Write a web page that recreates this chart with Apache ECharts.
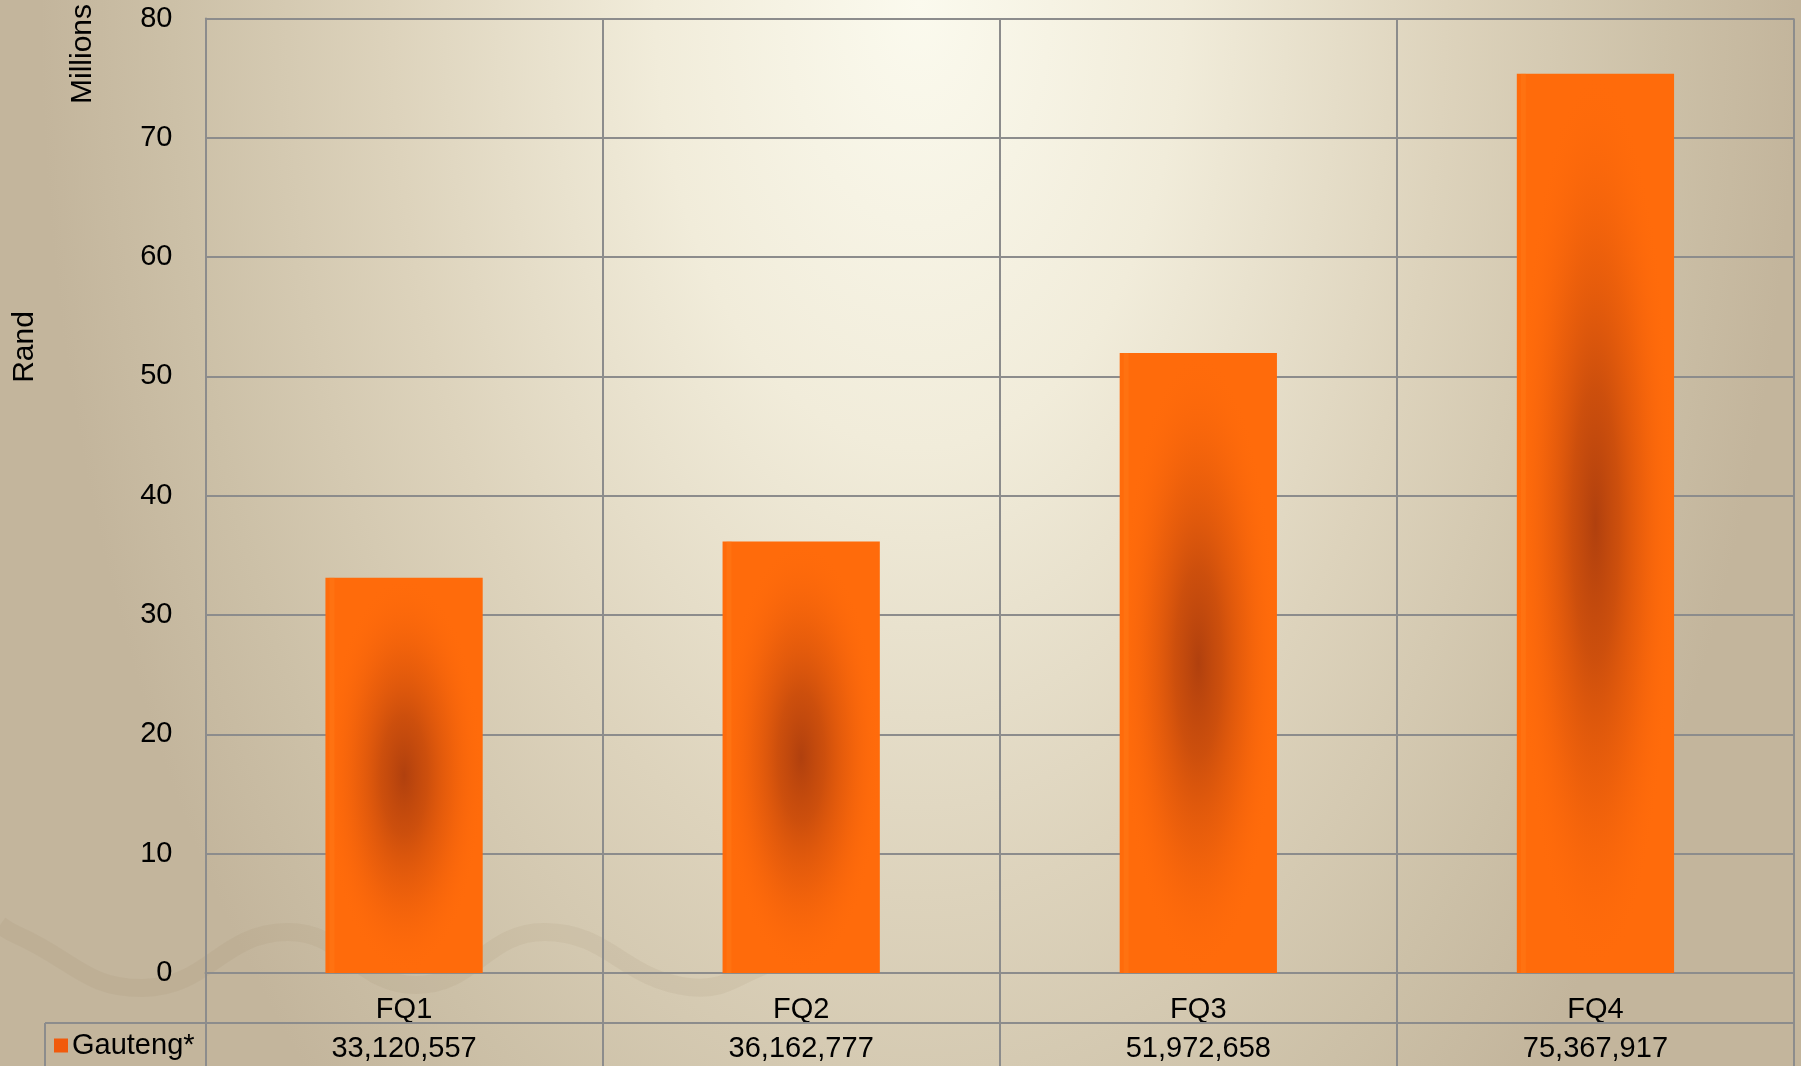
<!DOCTYPE html>
<html>
<head>
<meta charset="utf-8">
<script src="https://cdn.jsdelivr.net/npm/echarts@6/dist/echarts.min.js"></script>
<style>
html,body{margin:0;padding:0;}
#chart{width:1801px;height:1066px;}
</style>
</head>
<body>
<div id="chart"></div>
<script>
const categories = ['FQ1', 'FQ2', 'FQ3', 'FQ4'];
const seriesName = 'Gauteng*';
const gautengRand = [33120557, 36162777, 51972658, 75367917];
const yMin = 0, yMax = 80, yInterval = 10;

const FONT = '"Liberation Sans", Arial, sans-serif';
const FS = 29;
const GRID_COLOR = '#8c8c8c';

const chart = echarts.init(document.getElementById('chart'));

function fmt(v) { return v.toLocaleString('en-US'); }

const BG_K = 1.7;

const option = {
  backgroundColor: '#c6b9a1',
  textStyle: { fontFamily: FONT },
  animation: false,
  grid: { left: 205.5, right: 7, top: 18.5, bottom: 93, containLabel: false },
  legend: {
    data: [seriesName],
    left: 54, top: 1031,
    padding: 0,
    icon: 'rect', itemWidth: 14, itemHeight: 14,
    textStyle: { fontSize: FS, color: '#000', fontFamily: FONT, padding: [0, 0, 0, -1] }
  },
  xAxis: {
    type: 'category',
    data: categories,
    boundaryGap: true,
    axisLine: { show: true, lineStyle: { color: GRID_COLOR, width: 2 } },
    axisTick: { show: true, length: 95, lineStyle: { color: GRID_COLOR, width: 2 } },
    splitLine: { show: true, lineStyle: { color: GRID_COLOR, width: 2 } },
    axisLabel: {
      margin: 17,
      formatter: function (val, idx) {
        return '{c|' + val + '}\n{v|' + fmt(gautengRand[idx]) + '}';
      },
      rich: {
        c: { fontSize: FS, lineHeight: 39, color: '#000', fontFamily: FONT },
        v: { fontSize: FS, lineHeight: 39, color: '#000', fontFamily: FONT }
      }
    }
  },
  yAxis: {
    type: 'value',
    min: yMin, max: yMax, interval: yInterval,
    axisLine: { show: true, lineStyle: { color: GRID_COLOR, width: 2 } },
    axisTick: { show: false },
    splitLine: { show: true, lineStyle: { color: GRID_COLOR, width: 2 } },
    axisLabel: { fontSize: FS, color: '#000', margin: 33, fontFamily: FONT, padding: [6, 0, 0, 0] }
  },
  graphic: [
    {
      type: 'rect', z: -10, silent: true,
      x: 0, y: 0, scaleY: BG_K,
      shape: { x: 0, y: 0, width: 1801, height: 1066 / BG_K },
      style: {
        fill: {
          type: 'radial', x: 0.51, y: 0.0, r: 1.4,
          colorStops: [
            { offset: 0, color: '#fbfaee' },
            { offset: 0.3, color: '#f1ecda' },
            { offset: 0.6, color: '#ddd3bc' },
            { offset: 0.85, color: '#ccc0a7' },
            { offset: 1, color: '#c3b59c' }
          ]
        }
      }
    },
    {
      type: 'polyline', z: 0, silent: true,
      shape: {
        points: [[0, 925], [17, 935], [143, 988], [287, 932], [416, 985], [545, 932], [689, 987], [780, 960], [830, 948]],
        smooth: 0.45
      },
      style: { stroke: 'rgba(140,118,85,0.09)', lineWidth: 18, fill: null }
    },
    {
      type: 'line', silent: true, z: 5,
      shape: { x1: 45, y1: 1023, x2: 1795, y2: 1023 },
      style: { stroke: GRID_COLOR, lineWidth: 2 }
    },
    {
      type: 'line', silent: true, z: 5,
      shape: { x1: 45, y1: 1023, x2: 45, y2: 1066 },
      style: { stroke: GRID_COLOR, lineWidth: 2 }
    },
    {
      type: 'text', x: 83, y: 54, rotation: Math.PI / 2,
      style: { text: 'Millions', fontSize: 30, fill: '#000', fontFamily: FONT, align: 'center', verticalAlign: 'middle' }
    },
    {
      type: 'text', x: 25, y: 347, rotation: Math.PI / 2,
      style: { text: 'Rand', fontSize: 30, fill: '#000', fontFamily: FONT, align: 'center', verticalAlign: 'middle' }
    }
  ],
  series: [
    {
      name: seriesName,
      type: 'custom',
      itemStyle: { color: '#f15a0c' },
      encode: { x: 0, y: 1 },
      data: gautengRand.map((v, i) => [i, v / 1e6]),
      renderItem: function (params, api) {
        const i = api.value(0);
        const v = api.value(1);
        const top = api.coord([i, v]);
        const base = api.coord([i, 0]);
        const bw = api.size([1, 0])[0] * 0.396;
        const h = base[1] - top[1];
        const k = h / bw;
        const left = top[0] - bw / 2;
        return {
          type: 'group',
          children: [
            {
              type: 'rect',
              shape: { x: left, y: top[1], width: bw, height: h },
              style: { fill: '#ff6b0b' }
            },
            {
              type: 'rect',
              x: left, y: top[1], scaleY: k,
              shape: { x: 0, y: 0, width: bw, height: bw },
              style: {
                fill: {
                  type: 'radial', x: 0.5, y: 0.5, r: 0.5,
                  colorStops: [
                    { offset: 0, color: 'rgba(176,64,14,1)' },
                    { offset: 0.3, color: 'rgba(192,72,13,0.8)' },
                    { offset: 0.6, color: 'rgba(214,82,12,0.45)' },
                    { offset: 0.85, color: 'rgba(238,94,11,0.15)' },
                    { offset: 1, color: 'rgba(255,107,11,0)' }
                  ]
                }
              }
            },
            {
              type: 'rect',
              shape: { x: left + 4, y: top[1], width: 5, height: h },
              style: { fill: 'rgba(255,130,30,0.35)' }
            }
          ]
        };
      }
    }
  ]
};
chart.setOption(option);
</script>
</body>
</html>
